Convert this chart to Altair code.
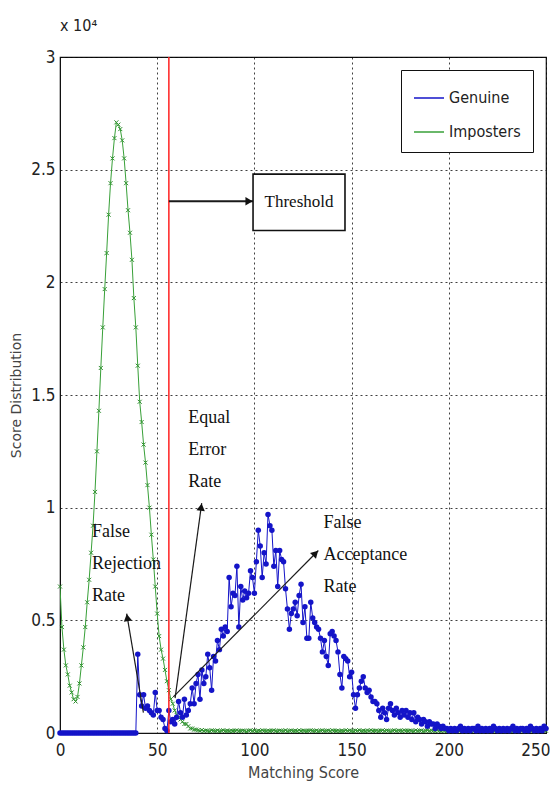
import math
import altair as alt
import pandas as pd

# ---------------- data (values in units of 10^4) ----------------
score = list(range(251))

genuine = [
    0, 0, 0, 0, 0, 0, 0, 0, 0, 0,
    0, 0, 0, 0, 0, 0, 0, 0, 0, 0,
    0, 0, 0, 0, 0, 0, 0, 0, 0, 0,
    0, 0, 0, 0, 0, 0, 0, 0, 0, 0,
    0.35, 0.17, 0.12, 0.17, 0.11, 0.12, 0.10, 0.09, 0.08, 0.18,
    0.10, 0.10, 0.07, 0.06, 0.02, 0.01, 0.10, 0.05, 0.06, 0.04,
    0.07, 0.14, 0.09, 0.07, 0.15, 0.08, 0.10, 0.13, 0.20, 0.13,
    0.22, 0.26, 0.15, 0.28, 0.22, 0.25, 0.35, 0.29, 0.19, 0.34,
    0.32, 0.41, 0.37, 0.46, 0.43, 0.47, 0.45, 0.69, 0.56, 0.62,
    0.61, 0.74, 0.47, 0.65, 0.59, 0.63, 0.60, 0.62, 0.72, 0.69,
    0.62, 0.76, 0.90, 0.83, 0.69, 0.80, 0.75, 0.97, 0.92, 0.90,
    0.74, 0.81, 0.65, 0.81, 0.77, 0.76, 0.64, 0.55, 0.46, 0.53,
    0.55, 0.58, 0.52, 0.61, 0.66, 0.49, 0.56, 0.42, 0.42, 0.58,
    0.51, 0.49, 0.47, 0.46, 0.42, 0.36, 0.41, 0.34, 0.30, 0.44,
    0.45, 0.43, 0.41, 0.36, 0.26, 0.20, 0.34, 0.33, 0.32, 0.25,
    0.27, 0.17, 0.11, 0.17, 0.20, 0.23, 0.25, 0.20, 0.18, 0.19,
    0.16, 0.14, 0.14, 0.13, 0.10, 0.07, 0.11, 0.09, 0.06, 0.11,
    0.13, 0.10, 0.08, 0.11, 0.09, 0.07, 0.10, 0.08, 0.10, 0.07,
    0.09, 0.06, 0.09, 0.05, 0.07, 0.06, 0.04, 0.06, 0.05, 0.03,
    0.05, 0.04, 0.04, 0.02, 0.04, 0.03, 0.02, 0.03, 0.02, 0.02,
    0.01, 0.02, 0.01, 0.02, 0.01, 0.02, 0.03, 0.01, 0.02, 0.01,
    0.02, 0.01, 0.02, 0.02, 0.01, 0.03, 0.01, 0.02, 0.01, 0.02,
    0.01, 0.02, 0.01, 0.03, 0.02, 0.01, 0.02, 0.01, 0.02, 0.01,
    0.02, 0.01, 0.02, 0.03, 0.01, 0.02, 0.01, 0.02, 0.02, 0.01,
    0.02, 0.01, 0.03, 0.02, 0.01, 0.02, 0.01, 0.02, 0.01, 0.03,
    0.02,
]

imposters = [
    0.65, 0.47, 0.37, 0.30, 0.26, 0.21, 0.18, 0.15, 0.14, 0.16,
    0.22, 0.30, 0.38, 0.47, 0.58, 0.68, 0.80, 0.92, 1.07, 1.25,
    1.43, 1.62, 1.80, 1.97, 2.13, 2.30, 2.44, 2.55, 2.64, 2.71,
    2.70, 2.68, 2.63, 2.55, 2.44, 2.32, 2.22, 2.10, 1.93, 1.80,
    1.63, 1.47, 1.38, 1.28, 1.20, 1.10, 1.00, 0.88, 0.77, 0.65,
    0.53, 0.43, 0.37, 0.33, 0.28, 0.23, 0.19, 0.15, 0.13, 0.10,
    0.08, 0.07, 0.06, 0.05, 0.04, 0.04, 0.03, 0.02, 0.02, 0.015,
    0.015, 0.012, 0.010, 0.013, 0.009, 0.011, 0.010, 0.008, 0.012, 0.010,
    0.009, 0.011, 0.008, 0.010, 0.012, 0.009, 0.010, 0.008, 0.011, 0.009,
    0.010, 0.012, 0.008, 0.009, 0.011, 0.010, 0.007, 0.010, 0.012, 0.009,
    0.011, 0.008, 0.010, 0.009, 0.012, 0.010, 0.008, 0.011, 0.009, 0.010,
    0.012, 0.009, 0.008, 0.011, 0.010, 0.009, 0.012, 0.008, 0.010, 0.011,
    0.009, 0.010, 0.008, 0.012, 0.009, 0.011, 0.010, 0.008, 0.010, 0.012,
    0.010, 0.009, 0.011, 0.008, 0.010, 0.012, 0.009, 0.010, 0.011, 0.008,
    0.012, 0.010, 0.009, 0.011, 0.008, 0.010, 0.009, 0.012, 0.010, 0.011,
    0.009, 0.008, 0.011, 0.010, 0.012, 0.009, 0.010, 0.008, 0.011, 0.010,
    0.012, 0.009, 0.010, 0.011, 0.008, 0.010, 0.012, 0.009, 0.011, 0.010,
    0.008, 0.010, 0.012, 0.009, 0.011, 0.010, 0.008, 0.012, 0.010, 0.009,
    0.011, 0.010, 0.008, 0.012, 0.009, 0.010, 0.011, 0.008, 0.010, 0.012,
    0.009, 0.011, 0.010, 0.008, 0.012, 0.010, 0.009, 0.011, 0.010, 0.008,
    0.012, 0.009, 0.010, 0.011, 0.008, 0.010, 0.012, 0.009, 0.011, 0.010,
    0.008, 0.010, 0.012, 0.009, 0.011, 0.010, 0.008, 0.012, 0.010, 0.009,
    0.011, 0.010, 0.008, 0.012, 0.009, 0.010, 0.011, 0.008, 0.010, 0.012,
    0.009, 0.011, 0.010, 0.008, 0.012, 0.010, 0.009, 0.011, 0.010, 0.008,
    0.010, 0.012, 0.009, 0.011, 0.010, 0.008, 0.012, 0.010, 0.009, 0.011,
    0.010,
]

series_names = ["Genuine", "Imposters"]
series_colors = ["#1414c8", "#38a038"]

x_ticks = [0, 50, 100, 150, 200, 250]
y_ticks = [0, 0.5, 1, 1.5, 2, 2.5, 3]

threshold = [56]

# annotations
ann_lines = [["Equal", "Error", "Rate"],
             ["False", "Rejection", "Rate"],
             ["False", "Acceptance", "Rate"]]
ann_x = [66.0, 16.5, 135.5]
ann_y = [1.44, 0.93, 0.97]

# arrows: start (x0,y0) -> tip (x1,y1)
arrow_x0 = [56.0, 59.2, 42.9, 58.3]
arrow_y0 = [2.36, 0.155, 0.09, 0.16]
arrow_x1 = [99.3, 72.9, 34.3, 132.9]
arrow_y1 = [2.36, 1.02, 0.53, 0.81]
arrow_w = [2.0, 1.2, 1.2, 1.2]

box_label = ["Threshold"]
box_x = [99.3]
box_x2 = [146.6]
box_y = [2.23]
box_y2 = [2.48]

# ---------------- layout ----------------
W, H = 486, 676
XMAX, YMAX = 250, 3
px_x = W / XMAX
px_y = H / YMAX

SANS = "Liberation Sans Narrow, DejaVu Sans Condensed, sans-serif"
SERIF = "Liberation Serif, Times New Roman, serif"
XMARK = "M-1,-1L1,1M-1,1L1,-1"

df = pd.DataFrame({
    "score": score * 2,
    "value": genuine + imposters,
    "series": ["Genuine"] * len(score) + ["Imposters"] * len(score),
})

last_tick = "datum.value == %d" % x_ticks[-1]
xs = alt.X("score:Q", scale=alt.Scale(domain=[0, XMAX], nice=False),
           axis=alt.Axis(values=x_ticks, title="Matching Score", format="d", labelFlush=False,
                         labelAlign={"condition": {"test": last_tick, "value": "right"}, "value": "center"},
                         labelOffset={"condition": {"test": last_tick, "value": 4}, "value": 0}))
ys = alt.Y("value:Q", scale=alt.Scale(domain=[0, YMAX], nice=False),
           axis=alt.Axis(values=y_ticks, title="Score Distribution", format="~g",
                         titleX=-44, titleBaseline="middle", labelFlush=False))

color = alt.Color("series:N", scale=alt.Scale(domain=series_names, range=series_colors),
                  legend=alt.Legend(title=None))

lines = alt.Chart(df).mark_line(strokeWidth=1, clip=True).encode(
    x=xs, y=ys, color=color, order="score:Q"
)

imp_pts = alt.Chart(df[df.series == "Imposters"]).mark_point(
    shape=XMARK, size=16, strokeWidth=1, filled=False, color="#2a8a2a", opacity=1
).encode(x="score:Q", y="value:Q")

gen_pts = alt.Chart(df[df.series == "Genuine"]).mark_circle(
    size=30, opacity=1, color=series_colors[0]
).encode(x="score:Q", y="value:Q")

rule = alt.Chart(pd.DataFrame({"t": threshold})).mark_rule(
    color="#ff2020", strokeWidth=1.5
).encode(x="t:Q")

# arrows
arr = pd.DataFrame({"x0": arrow_x0, "y0": arrow_y0, "x1": arrow_x1, "y1": arrow_y1, "w": arrow_w})
ang, hx, hy = [], [], []
for a, b, c, d in zip(arrow_x0, arrow_y0, arrow_x1, arrow_y1):
    dxp = (c - a) * px_x
    dyp = (d - b) * px_y
    L = math.hypot(dxp, dyp)
    ang.append((math.degrees(math.atan2(dxp, dyp)) + 360) % 360)
    hx.append(c - dxp / L * 4 / px_x)
    hy.append(d - dyp / L * 4 / px_y)
arr["ang"] = ang
arr["hx"] = hx
arr["hy"] = hy

arrow_lines = alt.Chart(arr).mark_rule(color="#1a1a1a").encode(
    x="x0:Q", y="y0:Q", x2="x1:Q", y2="y1:Q",
    strokeWidth=alt.StrokeWidth("w:Q", scale=None)
)
arrow_heads = alt.Chart(arr).mark_point(
    shape="triangle-up", filled=True, color="#111", size=70, opacity=1
).encode(x="hx:Q", y="hy:Q", angle=alt.Angle("ang:Q", scale=None))

box = alt.Chart(pd.DataFrame({"x": box_x, "x2": box_x2, "y": box_y, "y2": box_y2, "t": box_label})).mark_rect(
    fill="white", stroke="#111", strokeWidth=1.6
).encode(x="x:Q", x2="x2:Q", y="y:Q", y2="y2:Q")
box_text = alt.Chart(pd.DataFrame({"x": [(box_x[0] + box_x2[0]) / 2], "y": [(box_y[0] + box_y2[0]) / 2], "t": box_label})).mark_text(
    font=SERIF, fontSize=17, color="#111", align="center", baseline="middle"
).encode(x="x:Q", y="y:Q", text="t:N")

ann = alt.Chart(pd.DataFrame({"x": ann_x, "y": ann_y, "t": ann_lines})).mark_text(
    font=SERIF, fontSize=18, color="#111", align="left", baseline="top", lineHeight=32
).encode(x="x:Q", y="y:Q", text="t")

chart = alt.layer(
    imp_pts, lines, gen_pts, rule, arrow_lines, arrow_heads, box, box_text, ann
).properties(
    width=W, height=H,
    title=alt.TitleParams("x 10\u2074", anchor="start", frame="group", font=SANS,
                          fontSize=16, fontWeight="normal", color="#222", offset=14, dx=0),
    padding={"left": 52, "top": 49, "right": 4, "bottom": 54},
    autosize=alt.AutoSizeParams(type="none"),
).configure_view(
    stroke="#111", strokeWidth=1.2
).configure_axis(
    grid=True, gridColor="#000", gridDash=[2, 3], gridOpacity=0.75, gridWidth=1,
    domainColor="#111", ticks=False,
    labelFont=SANS, labelFontSize=17, labelColor="#222",
    titleFont="DejaVu Sans", titleFontSize=14, titleFontWeight="normal", titleColor="#444",
).configure_axisX(
    labelPadding=9, titleFont=SANS, titleFontSize=16, titlePadding=6,
).configure_axisY(
    labelPadding=5,
).configure_legend(
    orient="top-right", offset=13, fillColor="white", strokeColor="#111",
    padding=12, labelFont=SANS, labelFontSize=16, labelColor="#222",
    symbolType="stroke", symbolStrokeWidth=1.5, symbolSize=900, rowPadding=10,
)

chart.save("out.html", embed_options={"renderer": "svg", "actions": False})
